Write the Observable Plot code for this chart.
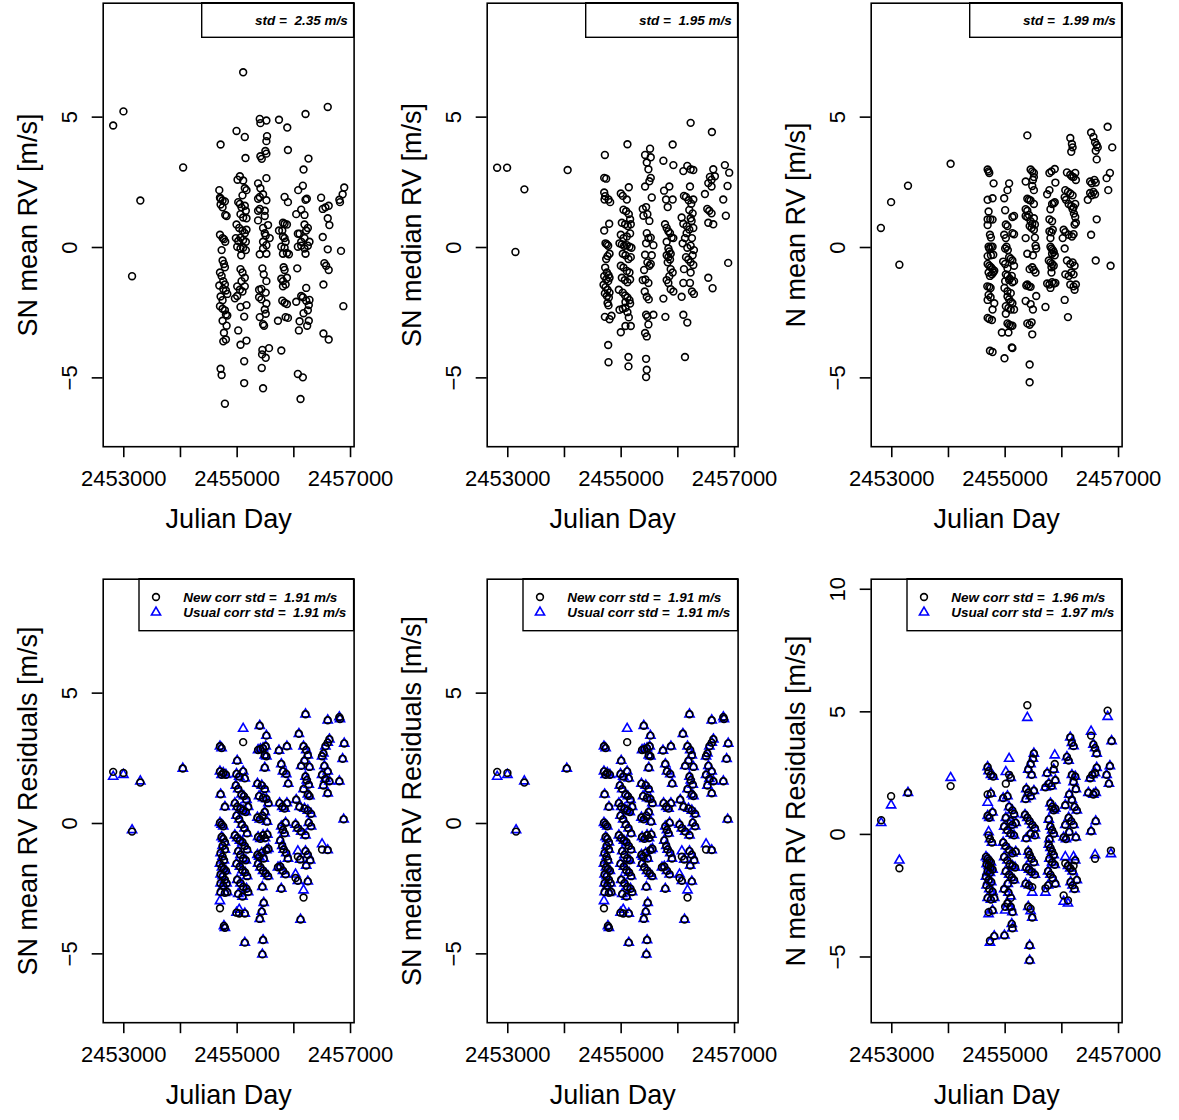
<!DOCTYPE html>
<html><head><meta charset="utf-8">
<script src="https://cdn.jsdelivr.net/npm/d3@7"></script>
<script src="https://cdn.jsdelivr.net/npm/@observablehq/plot@0.6"></script>
<style>
body{margin:0;background:#fff;}
#fig{position:relative;width:1179px;height:1120px;overflow:hidden;background:#fff;font-family:"Liberation Sans",Arial,Helvetica,sans-serif;}
.panel{position:absolute;}
.panel svg{overflow:visible;background:transparent;}
</style></head><body><div id="fig"></div>
<script>
// ---------- shared axis values ----------
const jdTicks = [2453000, 2454000, 2455000, 2456000, 2457000];
const jdTickLabels = [2453000, 2455000, 2457000];
const jdDomain = [2452637, 2457063];
const yDomainRV = [-7.64, 9.37];
const yDomainN = [-7.68, 10.41];
const yTicksRV = [-5, 0, 5];
const yTicksN = [-5, 0, 5, 10];

// ---------- top row: [Julian day, RV] ----------
const snMeanRV = [
[2452813,4.68],[2452994,5.22],[2453292,1.8],[2453146,-1.1],[2454047,3.07],
[2455106,6.72],[2454989,4.47],[2455135,4.24],[2455147,3.43],[2454708,3.95],
[2455399,4.93],[2455410,4.77],[2455516,4.87],[2455527,4.27],[2455516,4.08],[2455410,3.5],[2455434,3.4],[2455498,3.7],[2455516,3.6],
[2455738,4.9],[2455884,4.6],[2455896,3.74],
[2456206,5.12],[2456258,3.41],[2456171,2.99],[2456159,2.37],[2456077,2.2],
[2456598,5.39],
[2456889,2.3],[2456861,2.04],[2456803,1.83],[2456814,1.74],[2456832,-0.13],[2456873,-2.25],
[2456481,1.91],[2456510,1.48],[2456557,1.54],[2456615,1.6],[2456598,1.12],[2456627,0.86],[2456510,0.4],[2456598,-0.07],[2456539,-0.6],[2456569,-0.7],[2456615,-0.86],[2456522,-1.42],[2456522,-3.3],[2456615,-3.53],
[2456042,1.28],[2456130,1.45],[2456188,1.25],[2456206,1.83],[2456229,1.87],[2456188,0.88],[2456218,0.65],[2456247,0.75],[2456071,0.53],[2456101,0.53],[2456130,0.22],[2456188,0.36],[2456071,0.03],[2456130,0.07],[2456188,-0.04],[2456247,0.07],[2456276,0.22],[2456206,-0.24],[2456060,-0.8],[2456130,-1.86],[2456159,-1.91],[2456218,-1.55],[2456042,-2.08],[2456218,-2.04],[2456276,-2.01],[2456264,-2.21],[2456247,-2.41],[2456101,-2.83],[2456171,-2.52],[2456235,-3.0],[2456264,-2.81],[2456089,-3.18],[2456071,-4.85],[2456159,-4.98],[2456118,-5.81],
[2455837,1.94],[2455896,1.74],[2455808,0.95],[2455837,0.91],[2455878,0.88],[2455738,0.65],[2455796,0.65],[2455808,0.42],[2455837,0.36],[2455855,0.22],[2455779,0.03],[2455837,-0.01],[2455808,-0.24],[2455878,-0.21],[2455913,-0.26],[2455820,-0.76],[2455837,-0.86],[2455779,-1.2],[2455808,-1.29],[2455855,-1.42],[2455878,-1.16],[2455808,-1.49],[2455796,-2.04],[2455837,-2.12],[2455878,-2.17],[2455855,-2.67],[2455896,-2.7],[2455720,-2.81],[2455779,-3.95],
[2455369,2.46],[2455410,2.27],[2455516,2.66],[2455457,2.04],[2455369,1.87],[2455399,1.94],[2455516,1.81],[2455369,1.41],[2455399,1.48],[2455487,1.41],[2455369,1.04],[2455487,1.21],[2455457,0.75],[2455487,0.55],[2455504,0.46],[2455545,0.86],[2455574,0.36],[2455457,0.22],[2455516,0.09],[2455399,-0.26],[2455457,-0.04],[2455516,-0.24],[2455445,-0.8],[2455469,-1.03],[2455428,-1.59],[2455387,-1.62],[2455516,-1.29],[2455387,-1.91],[2455428,-1.99],[2455504,-1.73],[2455516,-2.15],[2455399,-2.67],[2455457,-2.94],[2455475,-3.0],[2455487,-2.38],[2455504,-2.54],[2455445,-3.93],[2455440,-4.1],[2455504,-4.23],[2455562,-3.86],[2455434,-4.62],[2455457,-5.4],
[2455007,2.6],[2455048,2.73],[2455106,2.57],[2455135,2.27],[2455165,2.2],[2455094,2.0],[2455019,1.74],[2455048,1.67],[2455077,1.54],[2455135,1.6],[2455153,1.41],[2455059,1.28],[2455106,1.15],[2455165,1.12],[2454989,0.88],[2455036,0.75],[2455094,0.65],[2455135,0.55],[2455165,0.68],[2454977,0.36],[2455019,0.25],[2455059,0.38],[2455106,0.29],[2455153,0.22],[2455001,0.03],[2455059,-0.04],[2455106,-0.01],[2455153,-0.1],[2455071,-0.3],[2455059,-0.83],[2455094,-0.96],[2455135,-1.16],[2455077,-1.29],[2455001,-1.49],[2455048,-1.62],[2455135,-1.49],[2455094,-1.69],[2454960,-1.95],[2455001,-1.86],[2455059,-2.28],[2455124,-2.65],[2455165,-2.21],[2455019,-3.18],[2455059,-3.73],[2455165,-3.57],[2455124,-4.36],[2455124,-5.2],
[2454685,2.2],[2454697,1.91],[2454708,1.87],[2454743,1.8],[2454784,1.77],[2454708,1.65],[2454743,1.54],[2454790,1.25],[2454814,1.21],[2454697,0.49],[2454743,0.36],[2454767,0.32],[2454790,0.22],[2454726,-0.1],[2454743,-0.5],[2454767,-0.63],[2454784,-0.76],[2454697,-0.96],[2454726,-1.09],[2454755,-1.29],[2454784,-1.42],[2454685,-1.46],[2454755,-1.59],[2454802,-1.65],[2454826,-1.78],[2454708,-1.88],[2454743,-2.02],[2454697,-2.25],[2454743,-2.35],[2454784,-2.41],[2454802,-2.57],[2454826,-2.61],[2454743,-2.81],[2454814,-3.0],[2454767,-3.27],[2454802,-3.53],[2454755,-3.6],[2454708,-4.65],[2454726,-4.89],[2454784,-5.99]
];

const snMedianRV = [
[2452812,3.06],[2452988,3.06],[2453293,2.23],[2453135,-0.17],[2454056,2.97],
[2454713,3.55],[2454701,2.67],[2454736,2.64],[2454701,2.11],[2454718,1.97],[2454707,1.84],[2454777,1.84],[2454806,1.74],[2454789,0.91],[2454701,0.65],[2454724,0.16],[2454748,0.12],[2454771,0.07],[2454795,-0.24],[2454760,-0.33],[2454736,-0.44],[2454718,-0.77],[2454748,-0.96],[2454777,-1.06],[2454701,-1.1],[2454736,-1.23],[2454771,-1.29],[2454795,-1.16],[2454689,-1.43],[2454724,-1.52],[2454760,-1.62],[2454795,-1.73],[2454713,-1.76],[2454748,-1.86],[2454783,-1.92],[2454760,-2.13],[2454777,-2.22],[2454713,-2.66],[2454795,-2.75],[2454830,-2.62],[2454771,-3.74],[2454777,-4.4],
[2455111,3.96],[2454994,2.07],[2455029,1.98],[2455135,2.31],[2455100,1.84],[2455041,1.45],[2455088,1.39],[2455135,1.28],[2455158,1.08],[2455012,0.95],[2455070,0.89],[2455117,0.82],[2455170,0.89],[2454994,0.49],[2455041,0.36],[2455100,0.42],[2455158,0.54],[2454971,0.16],[2455012,0.12],[2455053,0.07],[2455100,0.09],[2455147,0.03],[2455182,-0.01],[2455029,-0.24],[2455076,-0.3],[2455129,-0.44],[2455170,-0.37],[2454994,-0.7],[2455041,-0.77],[2455100,-0.9],[2455147,-0.96],[2455012,-1.16],[2455064,-1.25],[2455111,-1.33],[2455158,-1.23],[2454959,-1.62],[2455029,-1.73],[2455070,-1.84],[2455111,-1.92],[2455147,-2.02],[2455076,-2.09],[2455158,-2.15],[2454971,-2.39],[2455029,-2.35],[2455076,-2.31],[2455111,-2.48],[2455135,-2.68],[2455170,-3.01],[2454994,-3.25],[2455076,-3.01],[2455129,-4.2],[2455129,-4.56],
[2455422,3.55],[2455510,3.79],[2455452,3.26],[2455522,3.46],[2455481,3.0],[2455522,2.67],[2455498,2.54],[2455422,2.34],[2455540,1.92],[2455381,1.48],[2455440,1.55],[2455463,1.28],[2455393,1.22],[2455498,1.02],[2455452,0.55],[2455481,0.36],[2455440,0.16],[2455522,0.38],[2455569,0.09],[2455422,-0.28],[2455463,-0.57],[2455498,-0.7],[2455522,-0.63],[2455540,-0.3],[2455405,-0.86],[2455381,-1.25],[2455428,-1.23],[2455481,-1.36],[2455416,-1.69],[2455452,-1.89],[2455487,-1.99],[2455440,-2.58],[2455481,-2.95],[2455463,-2.66],[2455569,-2.58],[2455422,-3.28],[2455452,-3.41],[2455440,-4.27],[2455452,-4.69],[2455440,-4.97],
[2455745,3.33],[2455909,3.95],[2455921,3.16],[2455757,2.18],[2455850,2.34],[2455792,1.84],[2455821,1.55],[2455909,1.84],[2455774,0.89],[2455803,0.75],[2455833,0.62],[2455862,0.55],[2455891,0.38],[2455921,0.36],[2455803,0.22],[2455833,-0.04],[2455850,-0.15],[2455874,-0.24],[2455803,-0.3],[2455833,-0.37],[2455862,-0.46],[2455821,-0.57],[2455874,-0.83],[2455909,-0.96],[2455850,-1.1],[2455803,-1.25],[2455833,-1.36],[2455874,-1.6],[2455921,-1.69],[2455745,-1.96],[2455780,-2.66],
[2456226,4.78],[2456126,0.36],[2456155,0.55],[2456202,0.69],[2456243,1.02],[2456097,2.93],[2456167,3.13],[2456226,3.0],[2456273,2.97],[2456214,2.34],[2456108,1.98],[2456144,1.94],[2456190,1.81],[2456237,1.68],[2456273,1.84],[2456202,1.44],[2456261,1.31],[2456226,1.12],[2456067,1.15],[2456097,0.91],[2456155,0.82],[2456273,0.75],[2456249,0.36],[2456085,0.16],[2456167,-0.01],[2456226,0.07],[2456284,-0.1],[2456261,-0.3],[2456144,-0.37],[2456185,-0.46],[2456226,-0.57],[2456273,-0.67],[2456108,-0.83],[2456226,-0.96],[2456097,-1.36],[2456214,-1.36],[2456249,-1.69],[2456284,-1.78],[2456067,-1.89],[2456097,-2.58],[2456167,-2.88],[2456126,-4.2],
[2456601,4.43],[2456478,2.05],[2456537,2.47],[2456566,2.71],[2456595,2.6],[2456625,3.0],[2456654,2.73],[2456595,2.34],[2456519,1.48],[2456554,1.41],[2456595,1.31],[2456625,0.89],[2456537,0.95],[2456537,-1.16],[2456613,-1.56],
[2456830,3.16],[2456906,2.87],[2456877,2.36],[2456801,1.84],[2456847,1.22],[2456888,-0.59]
];

const nMeanRV = [
[2452808,0.75],[2452988,1.74],[2453134,-0.66],[2453286,2.37],[2454038,3.21],
[2454691,2.99],[2454708,2.92],[2454720,2.86],[2454796,2.46],[2454691,1.83],[2454778,1.89],[2454708,1.38],[2454691,1.08],[2454738,1.08],[2454778,1.07],[2454691,0.86],[2454732,0.49],[2454749,0.38],[2454708,0.03],[2454749,0.03],[2454778,0.03],[2454720,-0.04],[2454691,-0.33],[2454749,-0.3],[2454790,-0.28],[2454691,-0.63],[2454720,-0.7],[2454749,-0.76],[2454778,-0.83],[2454808,-0.89],[2454708,-0.96],[2454732,-1.09],[2454767,-1.03],[2454790,-0.96],[2454685,-1.49],[2454720,-1.51],[2454743,-1.55],[2454708,-1.82],[2454743,-1.91],[2454691,-2.01],[2454808,-2.14],[2454778,-2.38],[2454691,-2.7],[2454720,-2.74],[2454767,-2.78],[2454732,-3.96],[2454778,-4.01],
[2455070,2.46],[2455041,2.2],[2454983,1.89],[2455000,1.43],[2455128,1.17],[2455157,1.21],[2455012,0.88],[2455041,0.82],[2455128,0.55],[2455157,0.51],[2454983,0.49],[2455012,0.36],[2455023,0.03],[2455000,-0.04],[2455047,-0.1],[2455070,-0.37],[2455099,-0.43],[2455128,-0.5],[2455157,-0.7],[2454965,-0.54],[2455000,-0.63],[2455041,-0.8],[2455012,-1.03],[2455041,-1.09],[2455082,-1.2],[2455117,-1.09],[2455000,-1.29],[2455070,-1.25],[2455128,-1.33],[2455157,-1.29],[2454988,-1.55],[2455041,-1.68],[2455099,-1.75],[2455041,-1.88],[2455070,-1.99],[2455099,-2.08],[2455128,-2.14],[2455012,-2.25],[2455058,-2.32],[2455099,-2.38],[2455157,-2.38],[2455012,-2.54],[2455041,-2.91],[2455070,-2.96],[2455099,-3.0],[2455128,-3.0],[2454942,-3.26],[2455058,-3.26],[2455117,-3.83],[2455128,-3.86],[2454988,-4.25],
[2455391,4.3],[2455362,2.53],[2455449,2.99],[2455478,2.92],[2455507,2.86],[2455507,2.7],[2455490,2.59],[2455478,2.36],[2455507,2.2],[2455391,1.87],[2455420,1.83],[2455449,1.8],[2455507,1.67],[2455362,1.47],[2455391,1.41],[2455362,1.21],[2455391,1.17],[2455420,1.25],[2455449,1.01],[2455478,0.91],[2455507,1.12],[2455525,0.88],[2455432,0.82],[2455467,0.75],[2455507,0.68],[2455362,0.36],[2455525,0.38],[2455536,0.07],[2455548,-0.04],[2455391,-0.24],[2455490,-0.3],[2455478,-0.76],[2455507,-0.86],[2455536,-0.96],[2455432,-0.83],[2455391,-1.42],[2455420,-1.49],[2455449,-1.51],[2455373,-1.46],[2455548,-1.86],[2455362,-2.05],[2455449,-2.17],[2455490,-2.38],[2455391,-2.91],[2455432,-2.96],[2455467,-2.87],[2455478,-3.33],[2455432,-4.49],[2455432,-5.17],
[2455817,2.92],[2455781,2.86],[2455875,3.01],[2455741,2.04],[2455781,2.2],[2455886,2.49],[2455799,1.47],[2455828,1.67],[2455857,1.7],[2455875,1.74],[2455781,1.08],[2455828,1.01],[2455781,0.62],[2455817,0.58],[2455840,0.68],[2455799,0.36],[2455799,0.03],[2455817,-0.04],[2455840,-0.1],[2455857,-0.17],[2455875,-0.3],[2455828,-0.24],[2455770,-0.5],[2455799,-0.57],[2455828,-0.63],[2455857,-0.7],[2455817,-0.76],[2455741,-1.38],[2455781,-1.42],[2455828,-1.33],[2455857,-1.38],[2455886,-1.36],[2455799,-1.55],[2455817,-0.96],[2455711,-2.28],
[2456149,4.2],[2456178,3.97],[2456190,3.84],[2456166,3.67],[2456090,2.88],[2456149,2.79],[2456178,2.72],[2456207,2.7],[2456236,2.86],[2456248,2.59],[2456061,2.2],[2456108,2.13],[2456149,2.07],[2456190,2.0],[2456050,1.93],[2456073,1.83],[2456120,1.67],[2456166,1.59],[2456207,1.54],[2456236,1.67],[2456190,1.47],[2456213,1.3],[2456236,1.17],[2456248,0.95],[2456225,0.88],[2456032,0.68],[2456061,0.59],[2456120,0.49],[2456178,0.42],[2456207,0.51],[2456015,0.36],[2456050,-0.04],[2456090,-0.5],[2456149,-0.63],[2456190,-0.57],[2456225,-0.7],[2456061,-1.03],[2456120,-1.09],[2456166,-0.96],[2456207,-1.03],[2456149,-1.42],[2456207,-1.49],[2456248,-1.42],[2456225,-1.62],[2456050,-2.01],[2456108,-2.67],
[2456516,4.41],[2456557,4.24],[2456586,4.04],[2456615,3.93],[2456633,3.84],[2456598,3.71],[2456615,3.38],[2456499,2.53],[2456528,2.46],[2456574,2.59],[2456598,2.49],[2456557,2.13],[2456586,2.04],[2456499,2.09],[2456528,2.0],[2456458,1.83],[2456615,1.08],[2456516,0.49],[2456598,-0.5],
[2456808,4.63],[2456790,2.66],[2456848,2.86],[2456889,3.84],[2456819,2.2],[2456860,-0.7]
];

// ---------- bottom row: [Julian day, new corr residual, usual corr residual] ----------
const snMeanResid = [
[2452813,1.98,1.8],[2452994,1.94,1.87],[2453292,1.57,1.62],[2453146,-0.31,-0.25],[2454041,2.11,2.11],
[2454697,2.96,2.96],[2454726,2.89,2.89],[2454697,2.0,2.0],[2454726,1.87,1.87],[2454755,1.94,1.94],[2454802,1.87,1.87],[2454708,1.12,1.12],[2454784,0.64,0.64],[2454726,-0.04,-0.04],[2454755,-0.11,-0.11],[2454697,0.03,0.03],[2454726,-0.52,-0.52],[2454755,-0.59,-0.59],[2454784,-0.72,-0.72],[2454743,-0.86,-0.86],[2454784,-1.0,-1.0],[2454708,-1.13,-1.13],[2454743,-1.27,-1.27],[2454767,-1.41,-1.41],[2454697,-1.54,-1.54],[2454732,-1.68,-1.68],[2454767,-1.75,-1.75],[2454802,-1.81,-1.81],[2454708,-1.95,-1.95],[2454743,-2.02,-2.02],[2454784,-2.16,-2.16],[2454814,-2.29,-2.29],[2454708,-2.29,-2.29],[2454755,-2.39,-2.39],[2454708,-2.63,-2.63],[2454784,-2.66,-2.66],[2454825,-2.63,-2.63],[2454697,-3.25,-2.97],[2454767,-3.93,-3.93],[2454784,-4.0,-4.0],
[2455001,2.41,2.41],[2455106,3.12,3.64],[2454989,1.9,1.9],[2455036,1.8,1.8],[2455106,2.0,2.0],[2455135,1.73,1.73],[2454977,1.46,1.46],[2455019,1.32,1.32],[2455077,1.12,1.12],[2455118,1.05,1.05],[2455165,0.91,0.91],[2454960,0.78,0.78],[2455001,0.64,0.64],[2455059,0.57,0.57],[2455106,0.5,0.5],[2455153,0.44,0.44],[2455194,0.64,0.64],[2454989,0.3,0.3],[2455036,0.16,0.16],[2455083,-0.04,-0.04],[2455130,-0.18,-0.18],[2455176,-0.38,-0.38],[2454960,-0.45,-0.45],[2455001,-0.56,-0.56],[2455048,-0.65,-0.65],[2455094,-0.72,-0.72],[2455135,-0.86,-0.86],[2455176,-1.0,-1.0],[2455019,-1.06,-1.06],[2455059,-1.2,-1.2],[2455106,-1.34,-1.34],[2455153,-1.41,-1.41],[2454989,-1.54,-1.54],[2455048,-1.65,-1.65],[2455094,-1.79,-1.79],[2455141,-1.88,-1.88],[2455176,-2.02,-2.02],[2455001,-2.16,-2.16],[2455059,-2.29,-2.29],[2455106,-2.43,-2.43],[2455165,-2.5,-2.5],[2455194,-2.63,-2.63],[2455019,-2.7,-2.7],[2455094,-2.8,-2.8],[2454989,-3.42,-3.42],[2455036,-3.45,-3.3],[2455135,-3.45,-3.45],[2455135,-4.57,-4.57],
[2455399,3.75,3.75],[2455516,3.37,3.37],[2455504,2.96,2.96],[2455457,2.89,2.89],[2455410,2.85,2.85],[2455369,2.82,2.82],[2455487,2.62,2.62],[2455516,2.58,2.58],[2455487,2.14,2.14],[2455358,1.53,1.53],[2455434,1.46,1.46],[2455487,1.32,1.32],[2455387,1.05,1.05],[2455457,0.98,0.98],[2455516,0.94,0.94],[2455551,0.78,0.78],[2455358,0.23,0.23],[2455399,0.16,0.16],[2455445,0.3,0.3],[2455487,0.44,0.44],[2455527,0.07,0.07],[2455369,-0.52,-0.52],[2455410,-0.59,-0.59],[2455457,-0.45,-0.45],[2455492,-0.56,-0.56],[2455533,-0.42,-0.42],[2455358,-1.2,-1.2],[2455387,-1.27,-1.27],[2455434,-1.13,-1.13],[2455469,-1.34,-1.34],[2455516,-1.02,-1.02],[2455551,-0.97,-0.97],[2455369,-1.54,-1.54],[2455410,-1.68,-1.68],[2455457,-1.81,-1.81],[2455504,-1.92,-1.92],[2455545,-2.02,-2.02],[2455445,-2.43,-2.43],[2455469,-3.04,-3.04],[2455434,-3.38,-3.38],[2455399,-3.66,-3.66],[2455457,-4.47,-4.47],[2455445,-5.02,-5.02],
[2455738,2.8,2.8],[2455779,2.28,2.28],[2455808,2.0,2.0],[2455878,2.96,2.96],[2455866,1.9,1.9],[2455901,1.53,1.53],[2455749,0.78,0.78],[2455796,0.64,0.64],[2455837,0.57,0.57],[2455878,0.78,0.78],[2455779,-0.11,-0.11],[2455808,-0.25,-0.25],[2455837,-0.38,-0.38],[2455855,0.03,0.03],[2455761,-0.65,-0.65],[2455796,-0.86,-0.86],[2455820,-1.0,-1.0],[2455866,-1.13,-1.13],[2455896,-1.34,-1.34],[2455720,-1.68,-1.68],[2455761,-1.65,-1.65],[2455808,-1.81,-1.81],[2455855,-1.95,-1.95],[2455779,-2.5,-2.5],
[2456206,4.19,4.19],[2456089,3.44,3.44],[2456171,2.96,2.96],[2456218,2.82,2.82],[2456247,2.62,2.62],[2456188,2.41,2.41],[2456130,2.21,2.21],[2456276,2.17,2.17],[2456206,1.8,1.8],[2456229,1.66,1.66],[2456264,1.49,1.49],[2456171,1.32,1.32],[2456247,1.12,1.12],[2456276,1.05,1.05],[2456042,0.91,0.91],[2456101,0.64,0.64],[2456188,0.57,0.57],[2456247,0.5,0.5],[2456305,0.37,0.37],[2456030,-0.04,-0.04],[2456071,-0.18,-0.18],[2456130,-0.31,-0.31],[2456206,-0.45,-0.45],[2456264,0.03,0.03],[2456305,-0.11,-0.11],[2456071,-1.27,-1.06],[2456112,-1.38,-1.38],[2456206,-1.06,-1.06],[2456247,-1.2,-1.2],[2456288,-1.41,-1.41],[2456218,-1.61,-1.61],[2456030,-2.09,-1.95],[2456071,-2.2,-2.2],[2456247,-2.22,-2.22],[2456171,-2.84,-2.56],[2456118,-3.68,-3.68],
[2456598,3.96,3.96],[2456627,3.23,3.23],[2456598,3.1,3.1],[2456557,2.96,2.96],[2456522,2.69,2.69],[2456498,2.58,2.58],[2456539,2.21,2.21],[2456598,2.0,2.0],[2456498,1.87,1.87],[2456557,1.71,1.71],[2456627,1.62,1.62],[2456522,1.46,1.46],[2456598,1.16,1.16],[2456498,-1.0,-0.79],[2456598,-1.02,-1.02],
[2456803,4.08,4.08],[2456814,4.01,4.01],[2456861,2.48,2.48],[2456889,3.07,3.07],[2456803,1.62,1.62],[2456879,0.16,0.16]
];

// the SN median residuals are read as the same points as the SN mean residuals
const snMedianResid = snMeanResid;

const nMeanResid = [
[2452813,0.58,0.47],[2452988,1.56,1.19],[2453134,-1.38,-1.06],[2453286,1.7,1.7],[2454038,1.97,2.31],
[2454691,2.75,2.75],[2454708,2.58,2.58],[2454749,2.43,2.43],[2454790,2.36,2.36],[2454691,1.63,1.3],[2454749,1.67,1.67],[2454691,0.76,0.76],[2454720,0.68,0.68],[2454778,0.9,0.9],[2454708,-0.04,0.1],[2454732,-0.19,-0.19],[2454767,-0.33,-0.33],[2454662,-0.92,-0.92],[2454691,-0.99,-0.99],[2454720,-1.06,-1.06],[2454749,-1.14,-1.14],[2454673,-1.21,-1.21],[2454708,-1.28,-1.28],[2454743,-1.35,-1.35],[2454778,-1.43,-1.43],[2454691,-1.5,-1.5],[2454732,-1.57,-1.57],[2454662,-1.72,-1.72],[2454708,-1.86,-1.86],[2454755,-1.94,-1.94],[2454673,-2.08,-2.08],[2454720,-2.23,-2.23],[2454778,-2.34,-2.34],[2454691,-2.59,-2.59],[2454749,-2.66,-2.66],[2454808,-2.59,-2.59],[2454708,-3.17,-3.25],[2454778,-3.1,-3.1],[2454732,-4.34,-4.41],[2454808,-4.15,-4.15],
[2455070,2.43,3.09],[2455099,2.31,2.31],[2455012,2.07,2.55],[2454965,1.48,1.48],[2455041,1.56,1.56],[2455070,1.12,1.12],[2455128,0.98,0.98],[2455157,0.83,0.83],[2455012,0.68,0.68],[2455099,0.54,0.54],[2455128,0.39,0.39],[2455187,0.47,0.47],[2454983,0.32,0.32],[2455041,0.17,0.17],[2455099,0.03,0.03],[2455157,-0.04,-0.04],[2454965,-0.33,-0.33],[2455012,-0.48,-0.48],[2455070,-0.63,-0.63],[2455128,-0.77,-0.77],[2455187,-0.7,-0.7],[2454983,-0.92,-0.92],[2455041,-1.06,-1.06],[2455082,-1.21,-1.21],[2455128,-1.28,-1.28],[2455175,-1.35,-1.35],[2455012,-1.5,-1.5],[2455070,-1.64,-1.64],[2455117,-1.76,-1.76],[2455157,-1.86,-1.86],[2455047,-2.01,-2.01],[2454983,-2.23,-2.23],[2455058,-2.37,-2.37],[2455099,-2.59,-2.52],[2455041,-2.81,-2.81],[2455099,-2.95,-2.95],[2455128,-3.17,-3.17],[2455000,-2.95,-3.1],[2455117,-3.65,-3.65],[2455128,-3.83,-3.83],[2454988,-4.12,-4.12],
[2455391,5.27,4.76],[2455507,3.3,3.3],[2455490,3.09,3.09],[2455449,2.87,2.87],[2455408,2.65,2.65],[2455467,2.43,2.43],[2455373,1.85,1.85],[2455408,1.7,1.7],[2455449,1.56,1.56],[2455507,1.78,1.78],[2455362,1.44,1.44],[2455350,0.8,0.8],[2455391,0.68,0.68],[2455432,0.54,0.54],[2455478,0.39,0.39],[2455525,0.25,0.25],[2455373,-0.16,-0.16],[2455449,0.03,0.03],[2455525,-0.04,-0.04],[2455408,-0.7,-0.7],[2455432,-0.84,-0.84],[2455467,-0.99,-0.99],[2455507,-1.14,-1.14],[2455373,-1.35,-1.35],[2455420,-1.43,-1.43],[2455467,-1.53,-1.53],[2455525,-1.64,-1.64],[2455362,-2.01,-2.01],[2455420,-2.08,-2.08],[2455478,-2.15,-2.37],[2455408,-2.95,-2.95],[2455449,-3.03,-3.13],[2455478,-3.39,-3.39],[2455432,-4.53,-4.53],[2455432,-5.14,-5.14],
[2455741,2.5,2.5],[2455770,2.07,2.07],[2455817,1.97,1.97],[2455711,1.92,1.92],[2455875,2.87,3.23],[2455857,2.65,2.65],[2455886,2.21,2.21],[2455799,1.27,1.27],[2455828,1.12,1.12],[2455857,0.98,0.98],[2455886,1.05,1.05],[2455770,0.61,0.61],[2455799,0.32,0.32],[2455828,0.17,0.17],[2455857,0.03,0.03],[2455781,-0.19,-0.19],[2455770,-0.41,-0.41],[2455799,-0.55,-0.55],[2455828,-0.7,-0.7],[2455857,-0.84,-0.84],[2455781,-0.99,-0.99],[2455828,-1.14,-1.14],[2455875,-1.24,-1.24],[2455758,-1.5,-1.5],[2455799,-1.64,-1.64],[2455840,-1.79,-1.79],[2455886,-2.01,-2.01],[2455711,-2.2,-2.37],[2455758,-2.08,-2.08],
[2456149,3.96,3.96],[2456178,3.74,3.74],[2456207,3.6,3.6],[2456090,3.16,3.16],[2456120,3.01,3.01],[2456178,2.43,2.43],[2456236,2.36,2.36],[2456207,2.14,2.14],[2456248,1.85,1.85],[2456131,1.63,1.63],[2456178,1.41,1.41],[2456225,1.12,1.12],[2456265,0.98,0.98],[2456061,1.19,1.19],[2456120,0.68,0.68],[2456166,0.54,0.54],[2456207,0.39,0.39],[2456061,0.39,0.39],[2456131,0.1,0.1],[2456032,-0.12,-0.12],[2456073,-0.19,-0.19],[2456248,-0.12,-0.12],[2456061,-1.18,-0.92],[2456108,-1.28,-1.28],[2456149,-1.38,-1.38],[2456190,-1.5,-1.5],[2456236,-1.06,-1.06],[2456207,-1.28,-0.92],[2456155,-1.94,-1.94],[2456190,-2.08,-2.08],[2456225,-2.23,-2.23],[2456265,-1.86,-1.86],[2456032,-2.49,-2.74],[2456108,-2.69,-2.81],
[2456516,4.03,4.2],[2456557,3.67,3.67],[2456586,3.52,3.52],[2456615,3.3,3.3],[2456499,2.29,2.29],[2456539,2.43,2.43],[2456586,2.5,2.5],[2456615,2.72,2.72],[2456469,1.7,1.7],[2456557,1.63,1.63],[2456598,1.7,1.7],[2456516,0.13,0.13],[2456598,0.54,0.54],[2456586,-0.99,-0.84],
[2456808,5.05,4.8],[2456878,3.81,3.81],[2456848,2.79,2.79],[2456790,2.43,2.43],[2456831,2.07,2.07],[2456866,-0.66,-0.8]
];

// ---------- labels ----------
const yLabels = ["SN mean RV [m/s]", "SN median RV [m/s]", "N mean RV [m/s]",
                 "SN mean RV Residuals [m/s]", "SN median RV Residuals [m/s]", "N mean RV Residuals [m/s]"];
const xLabel = "Julian Day";
const stdTop = ["2.35", "1.95", "1.99"];
const stdNew = ["1.91", "1.91", "1.96"];
const stdUsual = ["1.91", "1.91", "1.97"];

// ---------- layout ----------
const COL_W = 384.2, ROW_Y = [0, 576.3], SVG_H = [560, 543.7];
const ML = 102.7, MR = 30.4, MT = 2.7, BOX_H = 443.5;
const FONT = '"Liberation Sans", Arial, Helvetica, sans-serif';
const BLUE = "#0000ff";
const DOT_R = 3.4, DOT_SW = 1.6;
const symArea = (r) => Math.PI * r * r;

function legendMark(kind, lines) {
  return (index, scales, values, dims) => {
    const L = dims.marginLeft, R = dims.width - dims.marginRight, T = dims.marginTop;
    const g = d3.create("svg:g");
    const tstyle = (t) => t.attr("text-anchor", "start")
      .style("font-size", "13.5px").style("font-weight", "bold").style("font-style", "italic")
      .style("font-family", FONT).style("white-space", "pre").attr("fill", "black");
    if (kind === "std") {
      g.append("rect").attr("x", L + 99).attr("y", T).attr("width", R - L - 99).attr("height", 34.6)
        .attr("fill", "white").attr("stroke", "black").attr("stroke-width", 1.4);
      g.append("text").attr("x", L + 152.3).attr("y", T + 22.5).text(lines[0]).call(tstyle);
    } else {
      g.append("rect").attr("x", L + 36.3).attr("y", T).attr("width", R - L - 36.3).attr("height", 52)
        .attr("fill", "white").attr("stroke", "black").attr("stroke-width", 1.4);
      g.append("circle").attr("cx", L + 53.3).attr("cy", T + 18.3).attr("r", DOT_R)
        .attr("fill", "none").attr("stroke", "black").attr("stroke-width", DOT_SW);
      g.append("path").attr("d", d3.symbol(d3.symbolTriangle, symArea(DOT_R))())
        .attr("transform", `translate(${L + 53.3},${T + 33.7})`)
        .attr("fill", "none").attr("stroke", BLUE).attr("stroke-width", DOT_SW);
      g.append("text").attr("x", L + 80.6).attr("y", T + 23.2).text(lines[0]).call(tstyle);
      g.append("text").attr("x", L + 80.6).attr("y", T + 38.8).text(lines[1]).call(tstyle);
    }
    return g.node();
  };
}

function makePanel(i) {
  const row = i < 3 ? 0 : 1, col = i % 3;
  const isN = i === 5;
  const yDomain = isN ? yDomainN : yDomainRV;
  const yTicks = isN ? yTicksN : yTicksRV;
  const H = SVG_H[row];
  const marks = [];
  if (row === 0) {
    const data = [snMeanRV, snMedianRV, nMeanRV][col];
    marks.push(Plot.dot(data, {x: d => d[0], y: d => d[1], r: DOT_R, stroke: "black", fill: "none", strokeWidth: DOT_SW}));
    marks.push(legendMark("std", [`std =  ${stdTop[col]} m/s`]));
  } else {
    const data = [snMeanResid, snMedianResid, nMeanResid][col];
    marks.push(Plot.dot(data, {x: d => d[0], y: d => d[2], r: DOT_R, symbol: "triangle", stroke: BLUE, fill: "none", strokeWidth: DOT_SW}));
    marks.push(Plot.dot(data, {x: d => d[0], y: d => d[1], r: DOT_R, stroke: "black", fill: "none", strokeWidth: DOT_SW}));
    marks.push(legendMark("resid", [`New corr std =  ${stdNew[col]} m/s`, `Usual corr std =  ${stdUsual[col]} m/s`]));
  }
  marks.push(
    Plot.frame({stroke: "black", strokeWidth: 1.6}),
    Plot.axisX({ticks: jdTicks, tickSize: 11, strokeWidth: 1.6, tickFormat: () => "", label: null}),
    Plot.axisY({ticks: yTicks, tickSize: 11, strokeWidth: 1.6, tickFormat: () => "", label: null}),
    Plot.text(jdTickLabels, {x: d => d, text: d => String(d), frameAnchor: "bottom", dy: 39, lineAnchor: "bottom", fontSize: 22, fill: "black"}),
    Plot.text(yTicks, {y: d => d, text: d => (d < 0 ? "\u2212" + Math.abs(d) : String(d)), frameAnchor: "left", dx: -26, rotate: -90, lineAnchor: "bottom", textAnchor: "middle", fontSize: 22, fill: "black"}),
    Plot.text([xLabel], {frameAnchor: "bottom", dy: 81, lineAnchor: "bottom", fontSize: 27, fill: "black"}),
    Plot.text([yLabels[i]], {frameAnchor: "left", dx: -66, rotate: -90, lineAnchor: "bottom", textAnchor: "middle", fontSize: 27, fill: "black"})
  );
  const svg = Plot.plot({
    width: 384, height: H,
    marginLeft: ML, marginRight: MR, marginTop: MT, marginBottom: H - MT - BOX_H,
    x: {domain: jdDomain},
    y: {domain: yDomain},
    style: {fontFamily: FONT, background: "transparent", overflow: "visible", color: "black"},
    marks
  });
  const div = document.createElement("div");
  div.className = "panel";
  div.style.left = (col * COL_W) + "px";
  div.style.top = ROW_Y[row] + "px";
  div.appendChild(svg);
  document.getElementById("fig").appendChild(div);
}

for (let i = 0; i < 6; i++) makePanel(i);
</script>
</body></html>
